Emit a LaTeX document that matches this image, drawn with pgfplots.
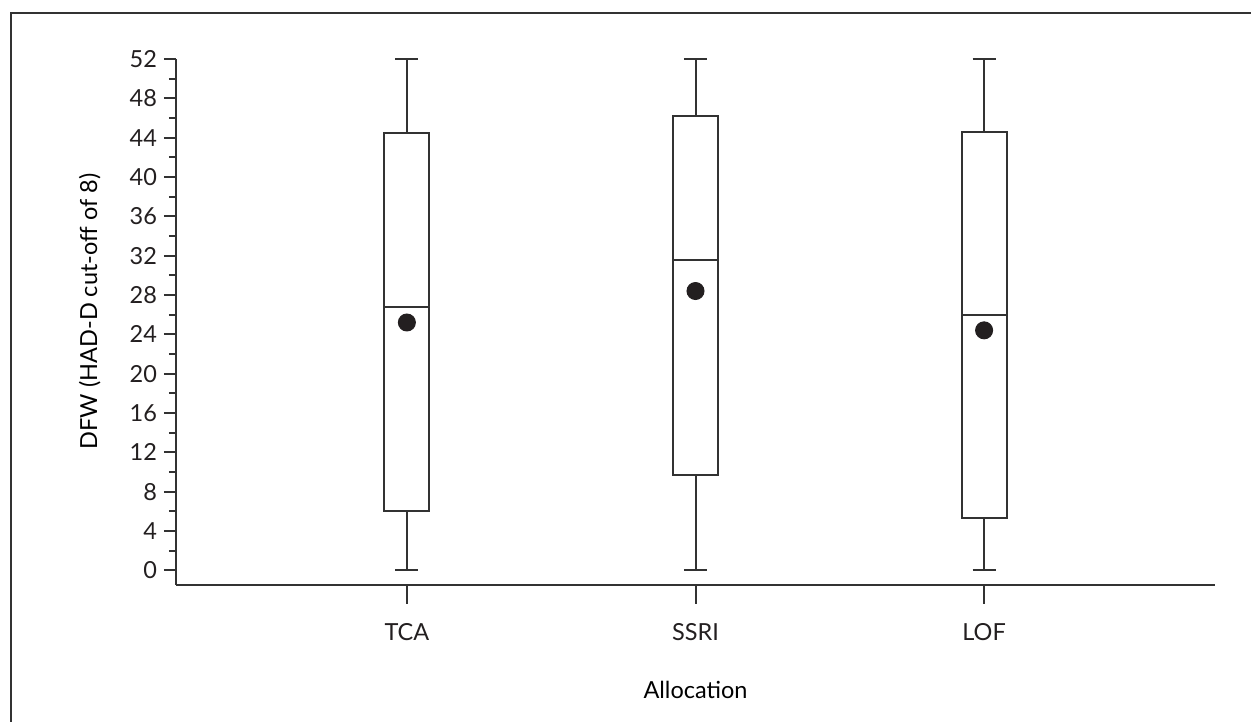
\documentclass[border=0pt]{standalone}
\usepackage{fontspec}
\setmainfont{Lato}
\usepackage{pgfplots}
\pgfplotsset{compat=1.18}
\usepgfplotslibrary{statistics}
\definecolor{linec}{RGB}{50,50,50}
\definecolor{txtc}{RGB}{35,31,32}
\begin{document}
\fontsize{9.4pt}{11pt}\selectfont
\begin{tikzpicture}
\path[use as bounding box] (0,0) rectangle (500.4pt,288.8pt);
\draw[line width=0.8pt, linec] (4.3pt,-1pt) -- (4.3pt,283.7pt) -- (502pt,283.7pt);
\begin{axis}[
  at={(70.4pt,54.8pt)}, anchor=south west,
  width=415.6pt, height=210.4pt, scale only axis,
  xmin=0.2, xmax=3.8, ymin=-1.5, ymax=52,
  axis lines*=left,
  axis line style={line width=0.8pt, linec},
  xtick={1,2,3}, xticklabels={TCA,SSRI,LOF},
  ytick={0,4,...,52}, minor y tick num=1,
  tick align=outside,
  major tick length=4.8pt, minor tick length=2.8pt,
  every tick/.style={line width=0.8pt, linec},
  /pgf/number format/assume math mode=true,
  tick label style={font=\fontsize{9.4pt}{11pt}\selectfont, text=txtc},
  yticklabel style={inner sep=2.6pt},
  xticklabel style={anchor=center, yshift=-14pt},
  label style={font=\fontsize{9.4pt}{11pt}\selectfont, text=txtc},
  every axis y label/.style={at={(axis description cs:-0.083,0.52)}, rotate=90, anchor=center},
  every axis x label/.style={at={(axis description cs:0.5,-0.2)}, anchor=center},
  ylabel={DFW (HAD-D cut-off of 8)},
  xlabel={Allocation},
  boxplot/draw direction=y,
  clip=false,
]
\addplot[boxplot prepared={draw position=1, lower whisker=0, lower quartile=6, median=26.8, upper quartile=44.5, upper whisker=52, box extend=0.156, whisker extend=0.08}, draw=linec, line width=0.8pt, solid, fill=white, mark=none] coordinates {};
\addplot[boxplot prepared={draw position=2, lower whisker=0, lower quartile=9.65, median=31.6, upper quartile=46.2, upper whisker=52, box extend=0.156, whisker extend=0.08}, draw=linec, line width=0.8pt, solid, fill=white, mark=none] coordinates {};
\addplot[boxplot prepared={draw position=3, lower whisker=0, lower quartile=5.3, median=26.0, upper quartile=44.6, upper whisker=52, box extend=0.156, whisker extend=0.08}, draw=linec, line width=0.8pt, solid, fill=white, mark=none] coordinates {};
\addplot[only marks, mark=*, mark size=3.4pt, color=txtc] coordinates {(1,25.2) (2,28.4) (3,24.4)};
\foreach \i in {1,2,3} {\edef\tmp{\noexpand\draw[line width=0.8pt, linec] (axis cs:\i,-1.5) -- ++(0pt,-7.6pt);}\tmp}
\end{axis}
\end{tikzpicture}
\end{document}
